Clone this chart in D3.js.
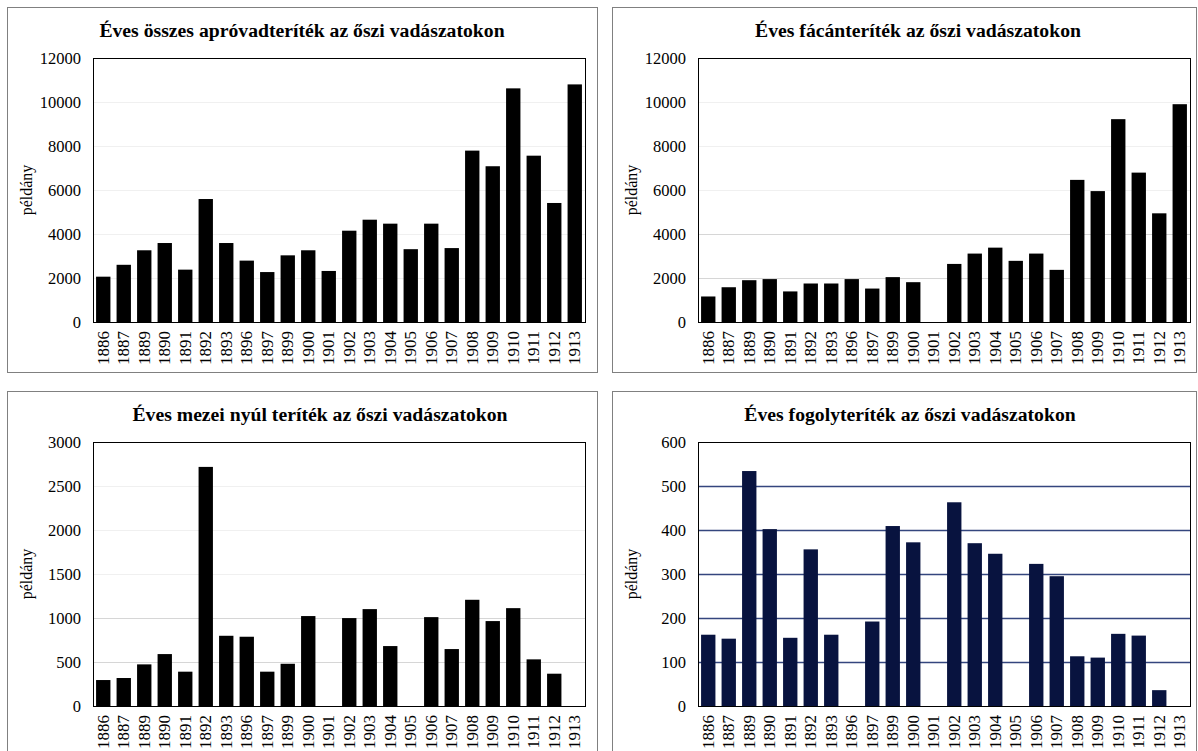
<!DOCTYPE html>
<html><head><meta charset="utf-8">
<script src="https://cdn.jsdelivr.net/npm/d3@7/dist/d3.min.js"></script>
<style>
body{margin:0;background:#fff;}
svg text{font-family:"Liberation Serif","Times New Roman",serif !important;}
</style></head>
<body><svg id="c" width="1198" height="751"></svg>
<script>
const years = ["1886","1887","1889","1890","1891","1892","1893","1896","1897","1899","1900","1901","1902","1903","1904","1905","1906","1907","1908","1909","1910","1911","1912","1913"];
const osszes = [2060,2600,3260,3590,2380,5590,3590,2790,2270,3030,3260,2320,4150,4650,4470,3310,4470,3360,7790,7080,10620,7560,5410,10800];
const facan  = [1160,1580,1900,1950,1390,1750,1750,1950,1520,2040,1810,0,2640,3110,3380,2780,3110,2370,6460,5950,9220,6790,4940,9900];
const nyul   = [295,318,473,590,390,2717,798,787,390,480,1022,0,999,1101,681,0,1010,647,1207,965,1112,530,367,0];
const fogoly = [162,153,534,402,155,356,162,0,192,409,372,0,463,370,346,0,323,295,113,110,164,160,36,0];
const titles = ["Éves összes apróvadteríték  az őszi vadászatokon","Éves fácánteríték az őszi vadászatokon","Éves mezei nyúl teríték az őszi vadászatokon","Éves fogolyteríték az őszi vadászatokon"];
const yMaxes = [12000,12000,3000,600];
const yTickSteps = [2000,2000,500,100];
const yLabel = "példány";

const svg = d3.select("#c");
const panels = [
  {x:7,y:7,w:590,h:365,px:93,py:58,pw:492,ph:264,tx:302,data:osszes,grid:()=>"#f0f0f0",bar:"#000",gw:1},
  {x:612,y:7,w:584,h:365,px:698,py:58,pw:492,ph:264,tx:918,data:facan,grid:t=>t<=4000?"#d6d6d6":"#f0f0f0",bar:"#000",gw:1},
  {x:7,y:391,w:590,h:365,px:93,py:442,pw:492,ph:264,tx:320,data:nyul,grid:t=>t<=1000?"#d6d6d6":"#f0f0f0",bar:"#000",gw:1},
  {x:612,y:391,w:584,h:365,px:698,py:442,pw:492,ph:264,tx:910,data:fogoly,grid:()=>"#34467e",bar:"#08133f",gw:1.3}
];

panels.forEach((p,i)=>{
  const g = svg.append("g");
  g.append("rect").attr("x",p.x+0.5).attr("y",p.y+0.5).attr("width",p.w).attr("height",p.h)
    .attr("fill","#fff").attr("stroke","#808080").attr("stroke-width",1);
  g.append("text").attr("x",p.tx).attr("y",p.y+30)
    .attr("text-anchor","middle").attr("font-weight","bold").attr("font-size",19.7).text(titles[i]);
  const x = d3.scaleBand().domain(years).range([p.px,p.px+p.pw]).paddingInner(0.3).paddingOuter(0.15);
  const y = d3.scaleLinear().domain([0,yMaxes[i]]).range([p.py+p.ph,p.py]);
  const ticks = d3.range(0,yMaxes[i]+1,yTickSteps[i]);
  g.append("g").selectAll("line").data(ticks.filter(t=>t>0&&t<yMaxes[i])).join("line")
    .attr("x1",p.px).attr("x2",p.px+p.pw).attr("y1",d=>Math.round(y(d))+0.5).attr("y2",d=>Math.round(y(d))+0.5)
    .attr("stroke",d=>p.grid(d)).attr("stroke-width",p.gw);
  g.append("g").selectAll("rect").data(p.data).join("rect")
    .attr("x",(d,j)=>x(years[j])).attr("width",x.bandwidth())
    .attr("y",d=>y(d)).attr("height",d=>y(0)-y(d)).attr("fill",p.bar);
  g.append("rect").attr("x",p.px+0.5).attr("y",p.py+0.5).attr("width",p.pw).attr("height",p.ph)
    .attr("fill","none").attr("stroke","#000").attr("stroke-width",1);
  const ya = g.append("g").attr("transform",`translate(${p.px},0)`)
    .call(d3.axisLeft(y).tickValues(ticks).tickSize(0).tickPadding(12).tickFormat(d3.format("d")));
  ya.select(".domain").remove();
  ya.selectAll("text").attr("font-size",16.5).attr("fill","#000");
  const xa = g.append("g").attr("transform",`translate(0,${p.py+p.ph})`)
    .call(d3.axisBottom(x).tickSize(0).tickPadding(0));
  xa.select(".domain").remove();
  xa.selectAll("text").attr("font-size",17).attr("fill","#000")
    .attr("text-anchor","end").attr("dy","0.33em")
    .attr("transform","translate(0,9) rotate(-90)").attr("x",0).attr("y",0);
  g.append("text").attr("transform",`translate(${p.px-61},${p.py+p.ph/2}) rotate(-90)`)
    .attr("text-anchor","middle").attr("font-size",16).text(yLabel);
});
</script></body></html>
